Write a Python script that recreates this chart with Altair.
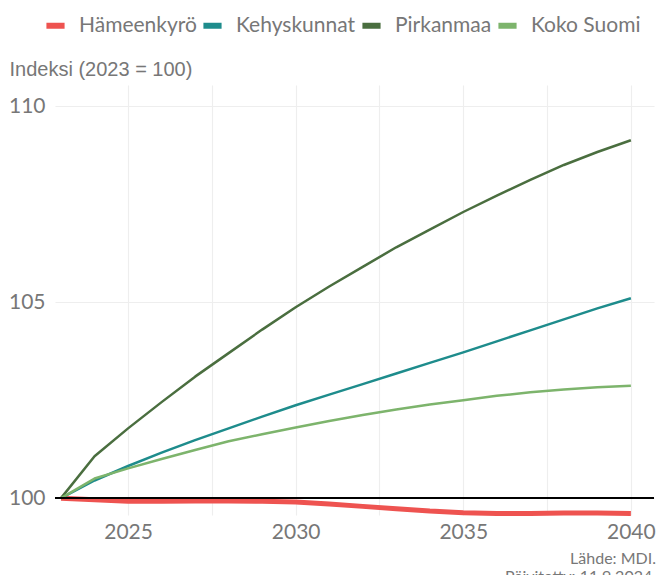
import altair as alt
import pandas as pd

years = list(range(2023, 2041))
hameenkyro = [100, 99.96, 99.92, 99.92, 99.93, 99.93, 99.92, 99.9, 99.85, 99.79,
              99.73, 99.67, 99.63, 99.61, 99.61, 99.62, 99.62, 99.61]
kehyskunnat = [100, 100.45, 100.82, 101.16, 101.48, 101.78, 102.08, 102.37, 102.64, 102.91,
               103.18, 103.45, 103.72, 104.0, 104.28, 104.56, 104.84, 105.1]
pirkanmaa = [100, 101.07, 101.78, 102.45, 103.1, 103.7, 104.3, 104.87, 105.4, 105.9,
             106.4, 106.85, 107.3, 107.72, 108.12, 108.5, 108.83, 109.13]
koko_suomi = [100, 100.5, 100.76, 101.0, 101.23, 101.45, 101.63, 101.8, 101.97, 102.12,
              102.26, 102.39, 102.5, 102.61, 102.7, 102.77, 102.83, 102.87]

series_names = ["Hämeenkyrö", "Kehyskunnat", "Pirkanmaa", "Koko Suomi"]
series_values = [hameenkyro, kehyskunnat, pirkanmaa, koko_suomi]
colors = ["#EE5350", "#1E8C8C", "#4A6E3F", "#7DB46C"]

rows = []
for name, vals in zip(series_names, series_values):
    for yr, v in zip(years, vals):
        rows.append({"Vuosi": yr, "Indeksi": v, "Alue": name})
df = pd.DataFrame(rows)

W, H = 599, 430
FONT = "Lato"
GRAY = "#777777"

x_scale = alt.Scale(domain=[2022.82, 2040.69], nice=False, zero=False)
y_scale = alt.Scale(domain=[99.57, 110.54], nice=False, zero=False)

lines = alt.Chart(df).mark_line(strokeCap="butt", strokeJoin="round").encode(
    x=alt.X("Vuosi:Q", scale=x_scale,
            axis=alt.Axis(values=[2025, 2027.5, 2030, 2032.5, 2035, 2037.5, 2040],
                          labelExpr="datum.value % 5 == 0 ? format(datum.value, 'd') : ''",
                          title=None, domain=False, ticks=False, grid=True,
                          gridColor="#eeeeee", gridWidth=1.2,
                          labelFontSize=21, labelColor=GRAY, labelFont=FONT,
                          labelPadding=6)),
    y=alt.Y("Indeksi:Q", scale=y_scale,
            axis=alt.Axis(values=[100, 105, 110], format="d",
                          title="Indeksi (2023 = 100)", titleAngle=0, titleAlign="left",
                          titleBaseline="alphabetic", titleX=-46, titleY=-10,
                          titleFontSize=20, titleFontWeight="normal", titleColor=GRAY,
                          titleFont="Liberation Sans",
                          domain=False, ticks=False, grid=True, gridColor="#eeeeee",
                          gridWidth=1.2, labelFontSize=21, labelColor=GRAY,
                          labelFont=FONT, labelPadding=10)),
    color=alt.Color("Alue:N", sort=series_names,
                    scale=alt.Scale(domain=series_names, range=colors),
                    legend=alt.Legend(title=None, orient="none", direction="horizontal",
                                      legendX=-12, legendY=-72,
                                      symbolType="stroke", symbolStrokeWidth=6,
                                      symbolSize=330, labelFontSize=21, labelOffset=11,
                                      labelColor=GRAY, labelFont=FONT, labelLimit=300,
                                      columnPadding=-6, symbolOffset=0)),
    strokeWidth=alt.condition(alt.datum.Alue == "Hämeenkyrö", alt.value(5), alt.value(2.5)),
    order=alt.Order("Vuosi:Q"),
)

rule = alt.Chart(df).mark_rule(color="black", strokeWidth=1.5).encode(
    y=alt.datum(100, scale=y_scale), x=alt.value(0), x2=alt.value(W)
)

chart = alt.layer(lines, rule).properties(
    width=W, height=H,
    autosize=alt.AutoSizeParams(type="none"),
    padding={"left": 47, "top": 77, "right": 4, "bottom": 60},
    title=alt.TitleParams(["Lähde: MDI.", "Päivitetty: 11.9.2024."], orient="bottom",
                          anchor="end", frame="group", fontSize=16, fontWeight="normal",
                          color=GRAY, font=FONT, offset=9, lineHeight=18, dx=2),
).configure_view(stroke=None)

chart.save("out.html", embed_options={"renderer": "svg", "actions": False})
